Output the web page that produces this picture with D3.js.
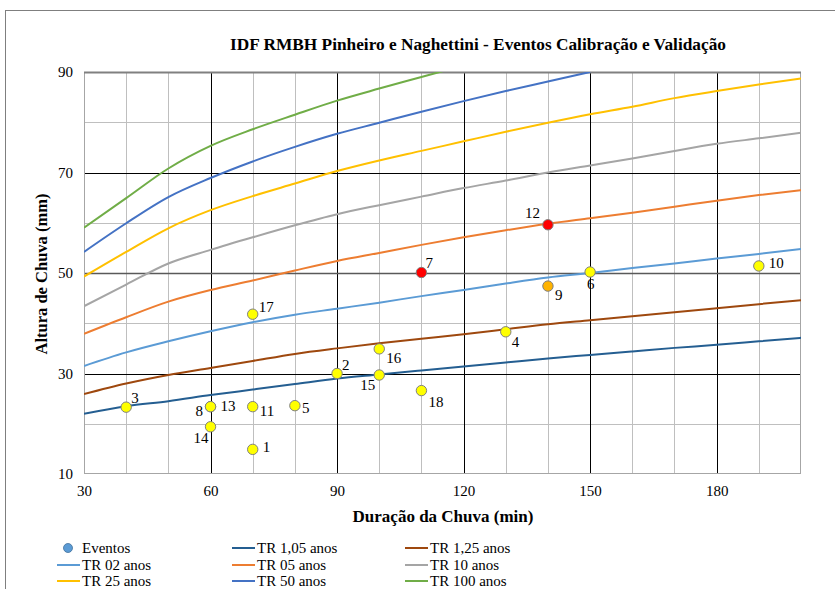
<!DOCTYPE html>
<html><head><meta charset="utf-8">
<script src="https://cdn.jsdelivr.net/npm/d3@7"></script>
<style>body{margin:0;background:#fff;} svg{display:block;} text{font-family:"Liberation Serif","Times New Roman",Tinos,"DejaVu Serif",serif;}</style>
</head><body>
<svg id="c" width="835" height="589"></svg>
<script>
// ---- data ----
const durations = [30,40,50,60,70,80,90,100,110,120,130,140,150,160,170,180,190,200];
const tr105 = [22.0,23.5,24.5,25.7,26.8,27.9,29.0,29.8,30.6,31.4,32.2,33.0,33.7,34.4,35.1,35.7,36.4,37.1];
const tr125 = [25.9,28.0,29.7,31.1,32.5,33.9,35.0,36.0,36.9,37.8,38.8,39.8,40.6,41.4,42.2,43.0,43.8,44.6];
const tr02  = [31.5,34.2,36.4,38.4,40.2,41.7,42.9,44.1,45.4,46.6,47.9,49.1,50.0,51.0,51.9,52.9,53.8,54.8];
const tr05  = [37.9,41.2,44.3,46.6,48.5,50.5,52.4,54.0,55.6,57.1,58.5,59.8,60.9,62.0,63.2,64.4,65.5,66.5];
const tr10  = [43.4,47.7,51.9,54.6,57.1,59.5,61.7,63.5,65.2,66.9,68.4,70.0,71.4,72.8,74.3,75.7,76.8,77.9];
const tr25  = [49.3,54.2,58.9,62.5,65.3,67.8,70.3,72.4,74.3,76.2,78.1,79.9,81.6,83.1,84.8,86.2,87.5,88.7];
const tr50  = [54.2,59.9,65.1,68.9,72.2,75.1,77.7,79.9,82.1,84.2,86.2,88.1,90.0];
const tr100 = [59.0,64.9,70.8,75.3,78.6,81.5,84.3,86.7,89.0,91.3];
const seriesNames = ["TR 1,05 anos","TR 1,25 anos","TR 02 anos","TR 05 anos","TR 10 anos","TR 25 anos","TR 50 anos","TR 100 anos"];
const seriesValues = [tr105,tr125,tr02,tr05,tr10,tr25,tr50,tr100];
const seriesColors = ["#245E91","#9E480E","#5B9BD5","#ED7D31","#A5A5A5","#FFC000","#4472C4","#70AD47"];

const eventIds   = [1,2,3,4,5,6,7,8,9,10,11,12,13,14,15,16,17,18];
const eventDur   = [70,90,40,130,80,150,110,60,140,190,70,140,60,60,100,100,70,110];
const eventDepth = [14.9,30.0,23.3,38.3,23.6,50.2,50.1,23.4,47.4,51.4,23.4,59.6,23.4,19.4,29.7,34.9,41.8,26.6];
const eventFill  = ["#FFFF00","#FFFF00","#FFFF00","#FFFF00","#FFFF00","#FFFF00","#FF0000","#FFFF00","#FFB300","#FFFF00","#FFFF00","#FF0000","#FFFF00","#FFFF00","#FFFF00","#FFFF00","#FFFF00","#FFFF00"];
// label placement: [dx, dy] relative to marker centre
const labelPos   = [[10,3],[5,-4],[5,-4],[6,15],[7,7],[-3,17],[4,-4],[-15,9],[7,14],[10,2],[7,9],[-23,-7],[10,4],[-17,16],[-19,15],[7,14],[6,-2],[7,16]];

const xTicks = [30,60,90,120,150,180];
const yTicks = [10,30,50,70,90];

// ---- layout ----
const FONT = "'Liberation Serif','Times New Roman',Tinos,'DejaVu Serif',serif";
const svg = d3.select("#c");
const L=84, R=801, T=72, B=474;
const x = d3.scaleLinear().domain([30,200]).range([L,R]);
const y = d3.scaleLinear().domain([10,90]).range([B,T]);

// outer frame
svg.append("rect").attr("x",5.5).attr("y",10.5).attr("width",840).attr("height",600)
  .attr("fill","none").attr("stroke","#7f7f7f").attr("stroke-width",1);

// title
svg.append("text").attr("x",478).attr("y",50).attr("text-anchor","middle").style("font-family",FONT)
  .attr("font-weight","bold").attr("font-size","17.3px").attr("fill","#000")
  .text("IDF RMBH Pinheiro e Naghettini - Eventos Calibração e Validação");

// grid
const g = svg.append("g");
const minorX = d3.range(40,200,10).filter(v=>v%30!==0);
const minorY = d3.range(20,90,10).filter(v=>(v-10)%20!==0);
g.selectAll(".mx").data(minorX).join("line")
  .attr("x1",d=>Math.round(x(d))+0.5).attr("x2",d=>Math.round(x(d))+0.5).attr("y1",T).attr("y2",B)
  .attr("stroke","#BFBFBF").attr("stroke-width",1);
g.selectAll(".my").data(minorY).join("line")
  .attr("y1",d=>Math.round(y(d))+0.5).attr("y2",d=>Math.round(y(d))+0.5).attr("x1",L).attr("x2",R)
  .attr("stroke","#BFBFBF").attr("stroke-width",1);
g.selectAll(".Mx").data([60,90,120,150,180]).join("line")
  .attr("x1",d=>Math.round(x(d))+0.5).attr("x2",d=>Math.round(x(d))+0.5).attr("y1",T).attr("y2",B)
  .attr("stroke","#000").attr("stroke-width",1);
g.selectAll(".My").data([30,50,70]).join("line")
  .attr("y1",d=>Math.round(y(d))+0.5).attr("y2",d=>Math.round(y(d))+0.5).attr("x1",L).attr("x2",R)
  .attr("stroke",d=>d===50?"#595959":"#000").attr("stroke-width",d=>d===50?1.5:1);
// plot border
svg.append("rect").attr("x",L+0.5).attr("y",T+0.5).attr("width",R-L-1).attr("height",B-T-1)
  .attr("fill","none").attr("stroke","#A6A6A6").attr("stroke-width",1);
svg.append("line").attr("x1",L).attr("x2",R).attr("y1",T+0.5).attr("y2",T+0.5).attr("stroke","#808080").attr("stroke-width",2);

// axes labels
const xAxis = d3.axisBottom(x).tickValues(xTicks).tickSize(0).tickPadding(11);
const ax = svg.append("g").attr("transform",`translate(0,${B})`).call(xAxis);
ax.select(".domain").remove();
ax.selectAll("text").attr("font-size","15px").attr("fill","#000").style("font-family",FONT);
const yAxis = d3.axisLeft(y).tickValues(yTicks).tickSize(0).tickPadding(11);
const ay = svg.append("g").attr("transform",`translate(${L},0)`).call(yAxis);
ay.select(".domain").remove();
ay.selectAll("text").attr("font-size","15px").attr("fill","#000").style("font-family",FONT);

svg.append("text").attr("x",443).attr("y",522).attr("text-anchor","middle").style("font-family",FONT)
  .attr("font-weight","bold").attr("font-size","17px").text("Duração da Chuva (min)");
svg.append("text").attr("transform","translate(47,274) rotate(-90)").attr("text-anchor","middle").style("font-family",FONT)
  .attr("font-weight","bold").attr("font-size","16.5px").text("Altura de Chuva (mm)");

// curves
svg.append("clipPath").attr("id","clip").append("rect").attr("x",L).attr("y",T).attr("width",R-L).attr("height",B-T);
const line = d3.line().x((d,i)=>x(durations[i])).y(d=>y(d)).curve(d3.curveMonotoneX);
const cg = svg.append("g").attr("clip-path","url(#clip)");
seriesValues.forEach((vals,k)=>{
  cg.append("path").attr("d",line(vals)).attr("fill","none")
    .attr("stroke",seriesColors[k]).attr("stroke-width",2).attr("stroke-linejoin","round");
});

// events
const pg = svg.append("g");
eventIds.forEach((id,i)=>{
  const cx=x(eventDur[i]), cy=y(eventDepth[i]);
  pg.append("circle").attr("cx",cx).attr("cy",cy).attr("r",5.2)
    .attr("fill",eventFill[i]).attr("stroke","#7F7F7F").attr("stroke-width",1);
});
eventIds.forEach((id,i)=>{
  const cx=x(eventDur[i]), cy=y(eventDepth[i]);
  pg.append("text").attr("x",cx+labelPos[i][0]).attr("y",cy+labelPos[i][1]).style("font-family",FONT)
    .attr("font-size","15px").attr("fill","#000").text(id);
});

// legend
const legItems = [{name:"Eventos",type:"dot",color:"#5B9BD5"}].concat(seriesNames.map((n,k)=>({name:n,type:"line",color:seriesColors[k]})));
const colX = [57,232,405], rowY=[548,565,581];
legItems.forEach((it,i)=>{
  const c=i%3, r=Math.floor(i/3);
  const lx=colX[c], ly=rowY[r];
  if(it.type==="dot"){
    svg.append("circle").attr("cx",lx+11).attr("cy",ly).attr("r",4.5).attr("fill",it.color).attr("stroke","#41719C").attr("stroke-width",0.8);
  } else {
    svg.append("line").attr("x1",lx).attr("x2",lx+23).attr("y1",ly).attr("y2",ly).attr("stroke",it.color).attr("stroke-width",2);
  }
  svg.append("text").attr("x",lx+25).attr("y",ly+5).style("font-family",FONT).attr("font-size","15px").text(it.name);
});
</script>
</body></html>
